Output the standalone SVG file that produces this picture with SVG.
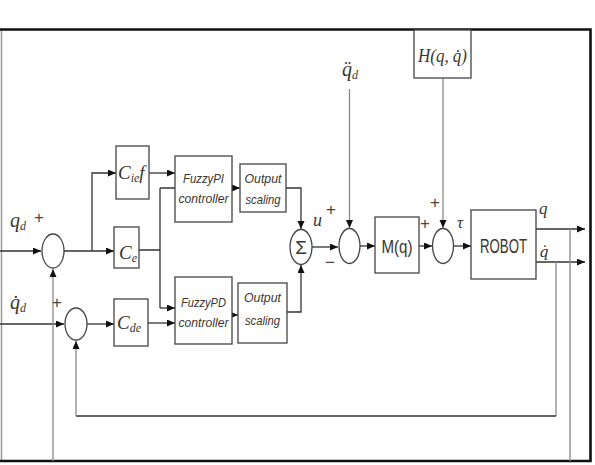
<svg xmlns="http://www.w3.org/2000/svg" width="595" height="465" viewBox="0 0 595 465">
<defs>
<marker id="ah" markerUnits="userSpaceOnUse" markerWidth="9" markerHeight="8" refX="8" refY="3.5" orient="auto">
<path d="M0,0 L8,3.5 L0,7 z" fill="#111"/>
</marker>
<style>
.box{fill:#fff;stroke:#444;stroke-width:1.3}
.sum{fill:#fff;stroke:#444;stroke-width:1.3}
.ln{fill:none;stroke:#333;stroke-width:1.3}
.lg{fill:none;stroke:#8a8a8a;stroke-width:1.3}
.math{font-family:"Liberation Serif",serif;font-style:italic;fill:#3a3530}
.dv{font-family:"DejaVu Serif",serif;font-style:italic;fill:#3a3530}
.sans{font-family:"Liberation Sans",sans-serif;fill:#3a3530}
.it{font-family:"Liberation Sans",sans-serif;font-style:italic;fill:#3a3530;font-size:13px}
.sign{font-family:"Liberation Sans",sans-serif;fill:#4a4540;font-size:17px}
</style>
</defs>
<rect width="595" height="465" fill="#fff"/>
<g id="frame">
<path d="M1.5,30 V461" stroke="#999" stroke-width="1.5" fill="none"/>
<path d="M0,29.5 H590.5 V461 H0" stroke="#111" stroke-width="2.6" fill="none"/>
</g>
<g id="connectors">
<path class="ln" d="M0,251 H41" marker-end="url(#ah)"/>
<path class="ln" d="M64,251 H114" marker-end="url(#ah)"/>
<path class="ln" d="M92,251 V173 H116" marker-end="url(#ah)"/>
<path class="ln" d="M149,173 H175" marker-end="url(#ah)"/>
<path class="ln" d="M139,250 H160 M160,188 V308 M160,188 H175"/>
<path class="ln" d="M160,308 H175" marker-end="url(#ah)"/>
<path class="ln" d="M0,324 H64" marker-end="url(#ah)"/>
<path class="ln" d="M87,324 H114" marker-end="url(#ah)"/>
<path class="ln" d="M148,323 H175" marker-end="url(#ah)"/>
<path class="ln" d="M232,188 H240" marker-end="url(#ah)"/>
<path class="ln" d="M232,315 H238" marker-end="url(#ah)"/>
<path class="ln" d="M286,188 H301 V229" marker-end="url(#ah)"/>
<path class="ln" d="M287,312 H301 V265" marker-end="url(#ah)"/>
<path class="ln" d="M312,247 H338" marker-end="url(#ah)"/>
<path class="lg" d="M349.5,89 V228" marker-end="url(#ah)"/>
<path class="ln" d="M360,246 H375" marker-end="url(#ah)"/>
<path class="ln" d="M419,246 H432" marker-end="url(#ah)"/>
<path class="lg" d="M443,78 V228" marker-end="url(#ah)"/>
<path class="ln" d="M453.5,246 H471" marker-end="url(#ah)"/>
<path class="ln" d="M536,229 H585" marker-end="url(#ah)"/>
<path class="ln" d="M536,262 H585" marker-end="url(#ah)"/>
<path class="lg" d="M570,229 V461"/>
<path class="lg" d="M53,461 V269" marker-end="url(#ah)"/>
<path class="lg" d="M556,262 V416"/>
<path class="ln" d="M556,416 H76"/>
<path class="lg" d="M76,416 V341" marker-end="url(#ah)"/>
</g>
<g id="sum1"><ellipse class="sum" cx="53" cy="251" rx="11" ry="17"/></g>
<g id="sum2"><ellipse class="sum" cx="76" cy="324" rx="11" ry="16"/></g>
<g id="sigma"><ellipse class="sum" cx="301" cy="247" rx="11" ry="17.5"/>
<text x="301" y="254" text-anchor="middle" class="sans" font-size="19">Σ</text></g>
<g id="sum3"><ellipse class="sum" cx="349.5" cy="246" rx="10.5" ry="17.5"/></g>
<g id="sum4"><ellipse class="sum" cx="443" cy="246" rx="10.5" ry="17.5"/></g>
<g id="Cief"><rect class="box" x="116" y="146" width="33" height="53"/>
<text x="118" y="179" class="math" font-size="19">C<tspan font-size="12" dy="3">ie</tspan><tspan dy="-3" font-size="19">f</tspan></text></g>
<g id="Ce"><rect class="box" x="114" y="227" width="25" height="41"/>
<text x="119" y="259" class="math" font-size="19">C<tspan font-size="12" dy="3">e</tspan></text></g>
<g id="Cde"><rect class="box" x="114" y="299" width="34" height="47"/>
<text x="117" y="329" class="math" font-size="19">C<tspan font-size="12" dy="3">de</tspan></text></g>
<g id="fuzzyPI"><rect class="box" x="175" y="156" width="57" height="66"/>
<text x="203.5" y="183" text-anchor="middle" class="it" textLength="41" lengthAdjust="spacingAndGlyphs">FuzzyPI</text>
<text x="203.5" y="203" text-anchor="middle" class="it" textLength="50" lengthAdjust="spacingAndGlyphs">controller</text></g>
<g id="fuzzyPD"><rect class="box" x="175" y="277" width="57" height="67"/>
<text x="203.5" y="307" text-anchor="middle" class="it" textLength="45" lengthAdjust="spacingAndGlyphs">FuzzyPD</text>
<text x="203.5" y="327" text-anchor="middle" class="it" textLength="50" lengthAdjust="spacingAndGlyphs">controller</text></g>
<g id="out1"><rect class="box" x="240" y="164" width="46" height="48"/>
<text x="263" y="183" text-anchor="middle" class="it" textLength="37" lengthAdjust="spacingAndGlyphs">Output</text>
<text x="263" y="204" text-anchor="middle" class="it" textLength="35" lengthAdjust="spacingAndGlyphs">scaling</text></g>
<g id="out2"><rect class="box" x="238" y="283" width="49" height="60"/>
<text x="262.5" y="302" text-anchor="middle" class="it" textLength="37" lengthAdjust="spacingAndGlyphs">Output</text>
<text x="262.5" y="325" text-anchor="middle" class="it" textLength="35" lengthAdjust="spacingAndGlyphs">scaling</text></g>
<g id="Mq"><rect class="box" x="375" y="217" width="44" height="56"/>
<text x="397" y="253" text-anchor="middle" class="sans" font-size="19" textLength="31" lengthAdjust="spacingAndGlyphs">M(q)</text></g>
<g id="H"><rect class="box" x="414" y="30" width="57" height="48"/>
<text x="442.5" y="62" text-anchor="middle" class="math" font-size="19" textLength="49" lengthAdjust="spacingAndGlyphs">H(q, q̇)</text></g>
<g id="robot"><rect class="box" x="471" y="210" width="65" height="69"/>
<text x="503.5" y="253" text-anchor="middle" class="sans" font-size="21" textLength="47" lengthAdjust="spacingAndGlyphs">ROBOT</text></g>
<g id="labels">
<text x="10" y="227" class="math" font-size="20">q<tspan font-size="12" dy="3">d</tspan></text>
<text x="34" y="223" class="sign">+</text>
<text x="10" y="309" class="math" font-size="20">q̇<tspan font-size="12" dy="3">d</tspan></text>
<text x="52" y="308" class="sign">+</text>
<text x="342" y="76" class="math" font-size="20">q̈<tspan font-size="12" dy="3">d</tspan></text>
<text x="313" y="226" class="math" font-size="18">u</text>
<text x="326" y="215" class="sign">+</text>
<text x="325" y="268" class="sign">−</text>
<text x="420" y="229" class="sign">+</text>
<text x="430" y="208" class="sign">+</text>
<text x="457" y="228" class="math" font-size="17">τ</text>
<text x="539" y="214" class="math" font-size="17">q</text>
<text x="539" y="257" class="dv" font-size="15">q̇</text>
</g>
</svg>
